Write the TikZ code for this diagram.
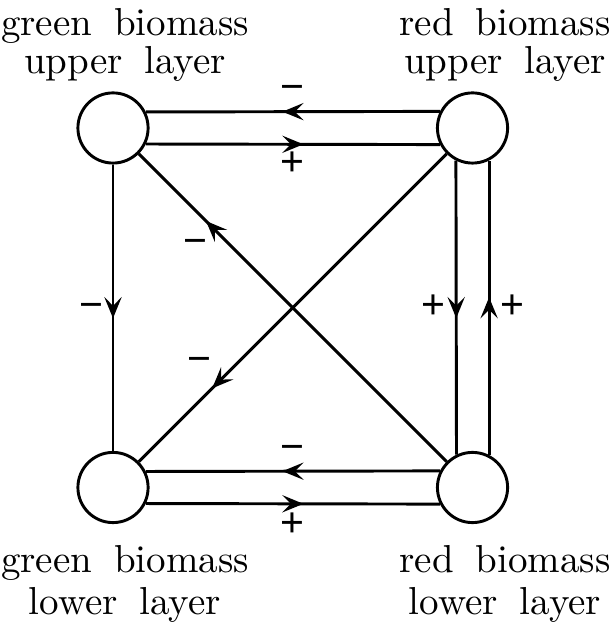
\documentclass[tikz,border=0pt]{standalone}
\usepackage{amsmath}
\usepackage{fontspec}
\usepackage{tikz}
\usetikzlibrary{arrows.meta}
\usetikzlibrary{decorations.markings}
\newfontfamily\signfont{Liberation Sans}

\tikzset{
    pool/.style={circle, draw, line width=0.75pt, minimum size=18pt, inner sep=0pt},
    flow/.style={line width=0.75pt, postaction={decorate},
        decoration={markings, mark=at position #1 with
            {\arrow[xshift=2.7pt]{Stealth[length=5.4pt, width=4.4pt, inset=2.2pt]}}}},
    sign/.style={font=\signfont\fontsize{10.5pt}{11pt}\selectfont, inner sep=0pt,
        text height=0.55em, text depth=0pt},
    tag/.style={align=center, inner sep=0pt,
        execute at begin node={\spaceskip=5.6pt\relax}},
}

\begin{document}
\begin{tikzpicture}[scale=0.9013]
        \useasboundingbox (0,0) rectangle (6.10,-6.24);
        % the four pools
        \node[pool] (greenup) at (1.13,-1.28) {};
        \node[pool] (redup) at (4.725,-1.28) {};
        \node[pool] (greenlow) at (1.13,-4.875) {};
        \node[pool] (redlow) at (4.725,-4.875) {};
        % names
        \node[tag, font=\fontsize{10pt}{9.75pt}\selectfont] (greenupname) at (1.25,-0.453) {green biomass\\upper layer};
        \node[tag, font=\fontsize{10pt}{9.75pt}\selectfont] (redupname) at (5.05,-0.453) {red biomass\\upper layer};
        \node[tag, font=\fontsize{10pt}{10.8pt}\selectfont] (greenlowname) at (1.25,-5.841) {green biomass\\lower layer};
        \node[tag, font=\fontsize{10pt}{10.8pt}\selectfont] (redlowname) at (5.05,-5.841) {red biomass\\lower layer};
        % upper layer exchange
        \draw[flow=0.5] (redup.153.7) -- node[sign, yshift=5.6pt] {−} (greenup.26.3);
        \draw[flow=0.5] (greenup.-26.3) -- node[sign, yshift=-5.3pt] {+} (redup.-153.7);
        % lower layer exchange
        \draw[flow=0.5] (redlow.153.7) -- node[sign, yshift=5.4pt] {−} (greenlow.26.3);
        \draw[flow=0.5] (greenlow.-26.3) -- node[sign, yshift=-5.6pt] {+} (redlow.-153.7);
        % between the layers
        \draw[flow=0.5] (greenup) -- node[sign, xshift=-5.4pt] {−} (greenlow);
        \draw[flow=0.5] (redup.243.7) -- node[sign, xshift=-5.9pt] {+} (redlow.116.3);
        \draw[flow=0.5] (redlow.63.7) -- node[sign, xshift=6.1pt] {+} (redup.-63.7);
        \draw[flow=0.76] (redlow) -- node[sign, pos=0.76, shift={(-4.4pt,-4.1pt)}] {−} (greenup);
        \draw[flow=0.74] (redup) -- node[sign, pos=0.74, shift={(-5.1pt,5.1pt)}] {−} (greenlow);
    \end{tikzpicture}
\end{document}
